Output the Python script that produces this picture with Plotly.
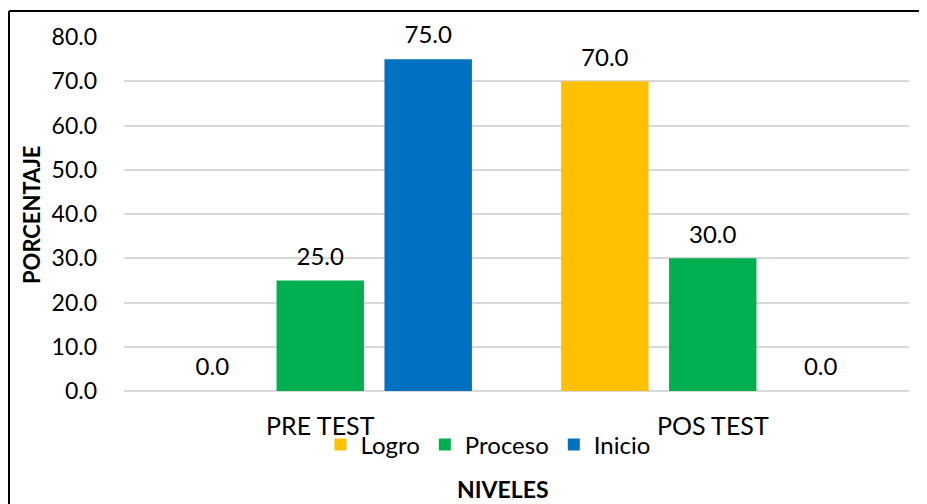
import plotly.graph_objects as go

categories = ["PRE TEST", "POS TEST"]
series_names = ["Logro", "Proceso", "Inicio"]
logro = [0.0, 70.0]
proceso = [25.0, 30.0]
inicio = [75.0, 0.0]
colors = ["#FFC000", "#00B050", "#0070C0"]
y_ticks = [0, 10, 20, 30, 40, 50, 60, 70, 80]

FONT = "Lato, Open Sans, sans-serif"
# page offset (body margin) compensation
OX, OY = 8, 8
WIN_W, WIN_H = 927, 504
W, H = WIN_W - OX, WIN_H - OY
# desired plot area in window pixels
PL, PR, PT, PB = 124, 909, 37, 391
ML, MR, MT, MB = PL - OX, WIN_W - PR, PT - OY, WIN_H - PB

pw = PR - PL
ph = PB - PT
def px_x(px):
    return (px - PL) / pw
def px_y(py):
    return (PB - py) / ph

fig = go.Figure()
for name, vals, col in zip(series_names, [logro, proceso, inicio], colors):
    fig.add_trace(go.Bar(
        x=categories, y=vals, name=name, offsetgroup=name,
        marker=dict(color=col, line=dict(width=0)),
        hoverinfo="skip",
    ))
for name, vals in zip(series_names, [logro, proceso, inicio]):
    fig.add_trace(go.Scatter(
        x=categories, y=vals, name=name, offsetgroup=name,
        mode="markers+text", showlegend=False, hoverinfo="skip",
        marker=dict(size=14, opacity=0, color="white"),
        text=[f"{v:.1f}" for v in vals],
        textposition="top center",
        textfont=dict(size=24, color="#000000", family=FONT),
        cliponaxis=False,
    ))

fig.update_layout(
    width=W, height=H,
    margin=dict(l=ML, r=MR, t=MT, b=MB, pad=0),
    paper_bgcolor="white", plot_bgcolor="white",
    barmode="group", bargap=0.175, bargroupgap=0.19,
    scattermode="group", scattergap=0.175,
    font=dict(family=FONT, size=22, color="#000000"),
    showlegend=True,
    legend=dict(orientation="h", x=px_x(488), xanchor="center",
                y=px_y(445), yanchor="middle",
                font=dict(size=24, family=FONT), itemwidth=30,
                traceorder="normal", bgcolor="rgba(0,0,0,0)"),
    xaxis=dict(showgrid=False, showline=False, ticks="",
               ticklabelstandoff=18,
               tickfont=dict(size=25, family=FONT)),
    yaxis=dict(range=[0, 80], tickvals=y_ticks,
               ticktext=[f"{v:.1f}" for v in y_ticks],
               showgrid=True, gridcolor="#D9D9D9", gridwidth=1.5,
               zeroline=True, zerolinecolor="#D9D9D9", zerolinewidth=1.5,
               showline=False, ticks="", ticklabelstandoff=26,
               tickfont=dict(size=23, family=FONT)),
    annotations=[
        dict(text="<b>PORCENTAJE</b>", xref="paper", yref="paper",
             x=px_x(32), y=px_y(215), textangle=-90,
             showarrow=False, font=dict(size=22, family=FONT),
             xanchor="center", yanchor="middle"),
        dict(text="<b>NIVELES</b>", xref="paper", yref="paper",
             x=px_x(503), y=px_y(489),
             showarrow=False, font=dict(size=23, family=FONT),
             xanchor="center", yanchor="middle"),
    ],
    shapes=[
        dict(type="line", xref="paper", yref="paper",
             x0=px_x(9), x1=px_x(WIN_W + 5),
             y0=px_y(11), y1=px_y(11),
             line=dict(color="#000000", width=2)),
        dict(type="line", xref="paper", yref="paper",
             x0=px_x(9), x1=px_x(9),
             y0=px_y(11), y1=px_y(WIN_H + 5),
             line=dict(color="#000000", width=2)),
    ],
)

fig.write_html("out.html")
